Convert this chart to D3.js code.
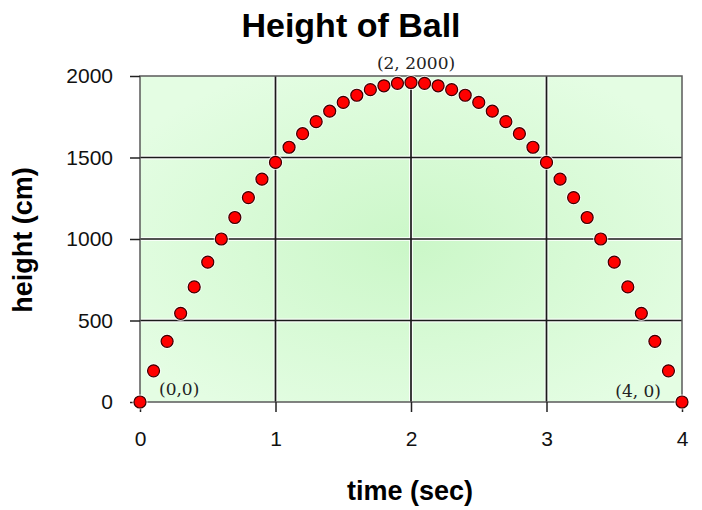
<!DOCTYPE html>
<html>
<head>
	<script src="https://cdn.jsdelivr.net/npm/d3@7"></script>
	<style>
		html, body {
			padding: 0;
			margin: 0;
			background: white;
		}
	</style>
</head>
<body>
	<div id="chart"></div>
	<script>
		var width = 702;
		var height = 510;

		// data
		var times = [0, 0.1, 0.2, 0.3, 0.4, 0.5, 0.6, 0.7, 0.8, 0.9, 1.0,
			1.1, 1.2, 1.3, 1.4, 1.5, 1.6, 1.7, 1.8, 1.9, 2.0,
			2.1, 2.2, 2.3, 2.4, 2.5, 2.6, 2.7, 2.8, 2.9, 3.0,
			3.1, 3.2, 3.3, 3.4, 3.5, 3.6, 3.7, 3.8, 3.9, 4.0];
		var heights = [0, 191, 372, 544, 706, 858, 1000, 1132, 1254, 1367, 1470,
			1563, 1646, 1720, 1784, 1838, 1882, 1916, 1940, 1955, 1960,
			1955, 1940, 1916, 1882, 1838, 1784, 1720, 1646, 1563, 1470,
			1367, 1254, 1132, 1000, 858, 706, 544, 372, 191, 0];
		var xTicks = [0, 1, 2, 3, 4];
		var yTicks = [0, 500, 1000, 1500, 2000];
		var notes = [
			{t: 0, h: 0, text: "(0,0)", dx: 19, dy: -7, anchor: "start"},
			{t: 2, h: 2000, text: "(2, 2000)", dx: 5, dy: -7, anchor: "middle"},
			{t: 4, h: 0, text: "(4, 0)", dx: -21, dy: -5, anchor: "end"}
		];

		var plot = {left: 140, top: 76, right: 682, bottom: 402};

		var x = d3.scaleLinear().domain([0, 4]).range([plot.left, plot.right]);
		var y = d3.scaleLinear().domain([0, 2000]).range([plot.bottom, plot.top]);

		var svg = d3.select('#chart').append('svg')
			.attr('width', width)
			.attr('height', height)
			.style('font-family', 'Arial, "Liberation Sans", sans-serif');

		var grad = svg.append('defs').append('radialGradient')
			.attr('id', 'bg')
			.attr('cx', '50%').attr('cy', '52%').attr('r', '60%');
		grad.append('stop').attr('offset', '0%').attr('stop-color', '#cbf7c8');
		grad.append('stop').attr('offset', '100%').attr('stop-color', '#e4fde3');

		svg.append('rect')
			.attr('x', plot.left)
			.attr('y', plot.top)
			.attr('width', plot.right - plot.left)
			.attr('height', plot.bottom - plot.top)
			.attr('fill', 'url(#bg)');

		//grid lines, white halo first then dark line
		var grid = svg.append('g');
		[['#ffffff', 4, 0.8], ['#1a1a1a', 1.7, 1]].forEach(function(s) {
			grid.selectAll(null)
				.data(xTicks.slice(1, -1))
				.enter().append('line')
				.attr('x1', function(d) { return x(d); })
				.attr('x2', function(d) { return x(d); })
				.attr('y1', plot.top)
				.attr('y2', plot.bottom)
				.attr('stroke', s[0]).attr('stroke-width', s[1]).attr('opacity', s[2]);
			grid.selectAll(null)
				.data(yTicks.slice(1, -1))
				.enter().append('line')
				.attr('x1', plot.left)
				.attr('x2', plot.right)
				.attr('y1', function(d) { return y(d); })
				.attr('y2', function(d) { return y(d); })
				.attr('stroke', s[0]).attr('stroke-width', s[1]).attr('opacity', s[2]);
		});

		svg.append('rect')
			.attr('x', plot.left)
			.attr('y', plot.top)
			.attr('width', plot.right - plot.left)
			.attr('height', plot.bottom - plot.top)
			.attr('fill', 'none')
			.attr('stroke', '#5a5a5a')
			.attr('stroke-width', 1.5);

		//axes
		var xAxis = svg.append('g')
			.attr('transform', 'translate(0,' + plot.bottom + ')')
			.call(d3.axisBottom(x).tickValues(xTicks).tickFormat(d3.format('d'))
				.tickSize(10).tickSizeOuter(0).tickPadding(19));
		var yAxis = svg.append('g')
			.attr('transform', 'translate(' + plot.left + ',0)')
			.call(d3.axisLeft(y).tickValues(yTicks).tickFormat(d3.format('d'))
				.tickSize(10).tickSizeOuter(0).tickPadding(17));

		[xAxis, yAxis].forEach(function(a) {
			a.select('.domain').remove();
			a.selectAll('line').attr('stroke', '#222').attr('stroke-width', 1.5);
			a.selectAll('text')
				.attr('fill', '#111')
				.style('font-size', '21px')
				.style('font-family', 'Arial, "Liberation Sans", sans-serif');
		});

		//points
		var pts = d3.range(times.length);
		svg.selectAll('circle.halo')
			.data(pts)
			.enter().append('circle')
			.attr('class', 'halo')
			.attr('cx', function(i) { return x(times[i]); })
			.attr('cy', function(i) { return y(heights[i]); })
			.attr('r', 7.6)
			.attr('fill', 'white')
			.attr('opacity', 0.75);
		svg.selectAll('circle.dot')
			.data(pts)
			.enter().append('circle')
			.attr('class', 'dot')
			.attr('cx', function(i) { return x(times[i]); })
			.attr('cy', function(i) { return y(heights[i]); })
			.attr('r', 6)
			.attr('fill', '#ff0000')
			.attr('stroke', '#3a0000')
			.attr('stroke-width', 1.2);

		//point notes
		svg.selectAll('text.note')
			.data(notes)
			.enter().append('text')
			.attr('class', 'note')
			.attr('x', function(d) { return x(d.t) + d.dx; })
			.attr('y', function(d) { return y(d.h) + d.dy; })
			.attr('text-anchor', function(d) { return d.anchor; })
			.style('font-family', '"DejaVu Serif", "Liberation Serif", serif')
			.style('font-size', '17px')
			.attr('fill', '#222')
			.text(function(d) { return d.text; });

		//titles
		svg.append('text')
			.attr('x', 351)
			.attr('y', 37)
			.attr('text-anchor', 'middle')
			.style('font-size', '34px')
			.style('font-weight', 'bold')
			.text('Height of Ball');

		svg.append('text')
			.attr('x', 410)
			.attr('y', 500)
			.attr('text-anchor', 'middle')
			.style('font-size', '27px')
			.style('font-weight', 'bold')
			.text('time (sec)');

		svg.append('text')
			.attr('transform', 'translate(32,' + 240 + ') rotate(-90)')
			.attr('text-anchor', 'middle')
			.style('font-size', '27px')
			.style('font-weight', 'bold')
			.text('height (cm)');
	</script>
</body>
</html>
